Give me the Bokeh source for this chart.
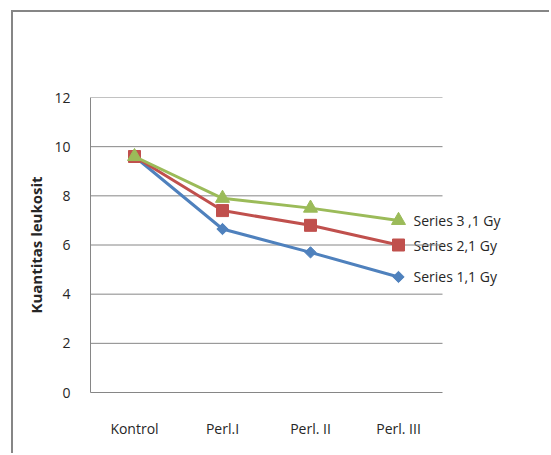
from bokeh.plotting import figure
from bokeh.models import Range1d, ColumnDataSource, FixedTicker
from bokeh.core.properties import value
from bokeh.embed import file_html
from bokeh.resources import INLINE
import math

categories = ["Kontrol", "Perl.I", "Perl. II", "Perl. III"]
series1 = [9.6, 6.65, 5.7, 4.7]
series2 = [9.6, 7.4, 6.8, 6.0]
series3 = [9.6, 7.9, 7.5, 7.0]
labels = ["Series 1,1 Gy", "Series 2,1  Gy", "Series 3 ,1 Gy"]
y_ticks = [0, 2, 4, 6, 8, 10, 12]

FONT = "Open Sans"
GRID = "#868686"
TXT = "#262626"
OX, OY = 11, 10  # outer frame offset

xs = list(range(len(categories)))
x_lo, x_hi = -0.5, len(categories) - 0.5   # category band edges

p = figure(width=538, height=443, output_backend="svg", toolbar_location=None,
           x_range=Range1d(x_lo, x_lo + 461 / 88), y_range=Range1d(0, 12),
           min_border_left=90 - OX - 2, min_border_right=0, min_border_top=97 - OY - 2,
           min_border_bottom=63)
p.margin = (OY, 0, 0, OX)
p.styles = {"border-left": "2px solid #868686", "border-top": "2px solid #868686"}
p.outline_line_color = None
p.background_fill_color = "white"
p.border_fill_color = "white"
p.xgrid.grid_line_color = None
p.ygrid.grid_line_color = None

p.xaxis.ticker = FixedTicker(ticks=xs)
p.xaxis.major_label_overrides = {i: c for i, c in zip(xs, categories)}
p.xaxis.bounds = (x_lo, x_hi)
p.yaxis.ticker = FixedTicker(ticks=y_ticks)

for ax in (p.xaxis, p.yaxis):
    ax.axis_line_color = GRID
    ax.axis_line_width = 1
    ax.major_tick_line_color = None
    ax.minor_tick_line_color = None
    ax.major_label_text_font = FONT
    ax.major_label_text_font_size = "14px"
    ax.major_label_text_color = TXT

p.yaxis.major_label_standoff = 14
p.xaxis.major_label_standoff = 20
p.yaxis.axis_label = "Kuantitas leukosit"
p.yaxis.axis_label_text_font = FONT
p.yaxis.axis_label_text_font_style = "bold"
p.yaxis.axis_label_text_font_size = "15px"
p.yaxis.axis_label_text_color = TXT
p.yaxis.axis_label_standoff = 5

colors = ["#4F81BD", "#C0504D", "#9BBB59"]
data = [series1, series2, series3]

# data labels next to last point
p.text(x=[xs[-1]] * len(data), y=[v[-1] for v in data], text=labels, x_offset=15,
       text_baseline="middle", text_align="left",
       text_font=value(FONT), text_font_size="14px", text_color=TXT)

# horizontal gridlines limited to the category band
gy = y_ticks[1:]
p.segment(x0=[x_lo] * len(gy), x1=[x_hi] * len(gy), y0=gy, y1=gy,
          line_color=GRID, line_width=1)

for i, (vals, col) in enumerate(zip(data, colors)):
    src = ColumnDataSource(dict(x=xs, y=vals))
    p.line("x", "y", source=src, line_color=col, line_width=3)
    if i == 0:
        p.scatter("x", "y", source=src, marker="square", angle=math.pi / 4, size=8,
                  fill_color=col, line_color=col)
    elif i == 1:
        p.scatter("x", "y", source=src, marker="square", size=12,
                  fill_color=col, line_color=col)
    else:
        p.scatter("x", "y", source=src, marker="triangle", size=14,
                  fill_color=col, line_color=col)

open("out.html", "w").write(file_html(p, INLINE))
